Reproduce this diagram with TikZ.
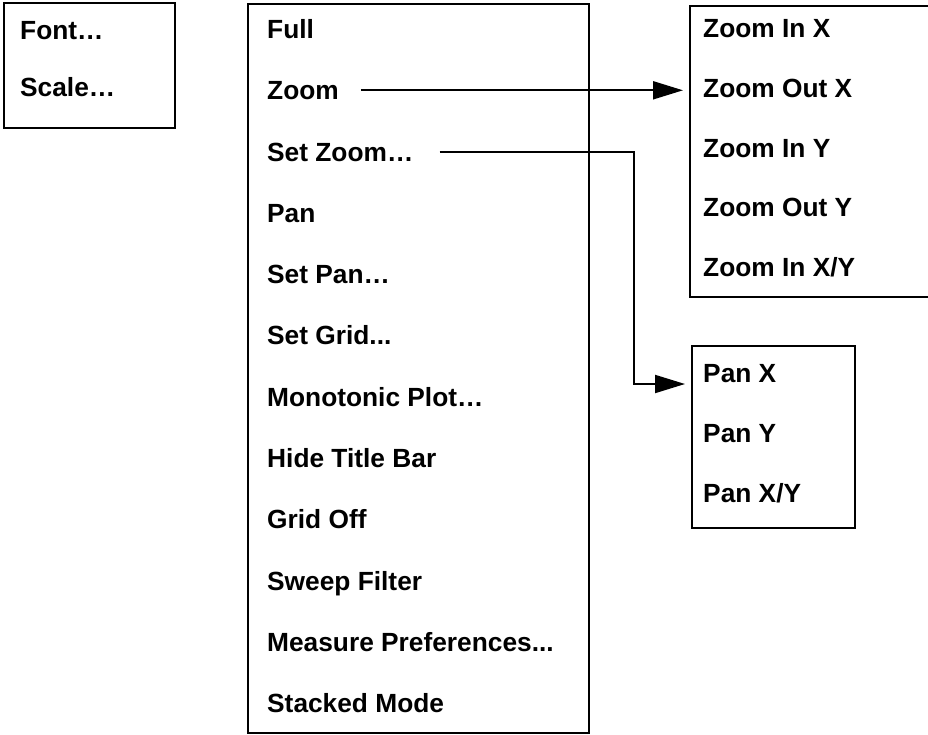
\documentclass[tikz,border=0pt]{standalone}
\usepackage{fontspec}
\setmainfont{Liberation Sans}
\usetikzlibrary{arrows.meta}

\begin{document}
\begin{tikzpicture}[x=1pt, y=-1pt,
  menubox/.style={draw, line width=2.2pt, anchor=north west, inner sep=0pt},
  item/.style={anchor=west, inner sep=0pt, text height=18.8pt, text depth=0pt,
    font=\fontsize{26.3}{30}\selectfont\bfseries},
  link/.style={line width=2pt, -{Triangle[length=30pt, width=18pt]}, shorten >=6pt}]
  \useasboundingbox (0,0) rectangle (928,734);
  \node[menubox, minimum width=171pt, minimum height=125pt] (viewbox) at (3,2) {};
  \node[menubox, minimum width=341pt, minimum height=729pt] (mainbox) at (247,3) {};
  \node[menubox, minimum width=240pt, minimum height=291pt] (zoombox) at (689,5) {};
  \node[menubox, minimum width=163pt, minimum height=182pt] (panbox) at (691,345) {};
  \node[item] (font) at (20,30) {Font…};
  \node[item] (scale) at (20,87) {Scale…};
  \node[item] (full) at (267,29) {Full};
  \node[item] (zoom) at (267,90.3) {Zoom};
  \node[item] (setzoom) at (267,151.6) {Set Zoom…};
  \node[item] (pan) at (267,212.9) {Pan};
  \node[item] (setpan) at (267,274.2) {Set Pan…};
  \node[item] (setgrid) at (267,335.5) {Set Grid...};
  \node[item] (monotonic) at (267,396.8) {Monotonic Plot…};
  \node[item] (hidetitle) at (267,458.1) {Hide Title Bar};
  \node[item] (gridoff) at (267,519.4) {Grid Off};
  \node[item] (sweep) at (267,580.7) {Sweep Filter};
  \node[item] (measure) at (267,642) {Measure Preferences...};
  \node[item] (stacked) at (267,703.3) {Stacked Mode};
  \node[item] (zoominx) at (703,28) {Zoom In X};
  \node[item] (zoomoutx) at (703,88) {Zoom Out X};
  \node[item] (zoominy) at (703,148) {Zoom In Y};
  \node[item] (zoomouty) at (703,207) {Zoom Out Y};
  \node[item] (zoominxy) at (703,267) {Zoom In X/Y};
  \node[item] (panx) at (703,373) {Pan X};
  \node[item] (pany) at (703,433) {Pan Y};
  \node[item] (panxy) at (703,493) {Pan X/Y};
  \coordinate (bend) at (634,384);
  \draw[link] ([xshift=22pt]zoom.east) -- (zoom.east -| zoombox.west);
  \draw[link] ([xshift=26pt]setzoom.east) -| (bend) -- (bend -| panbox.west);
\end{tikzpicture}
\end{document}
